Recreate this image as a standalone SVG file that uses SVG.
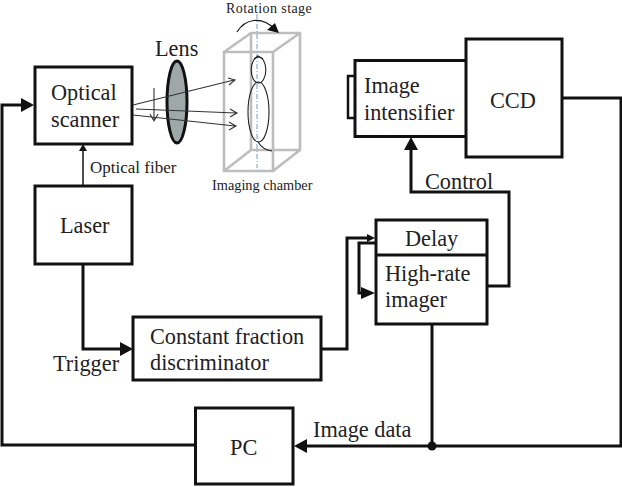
<svg xmlns="http://www.w3.org/2000/svg" width="622" height="487" viewBox="0 0 622 487">
<style>
text{font-family:"Liberation Serif","Times New Roman",serif;fill:#222}
.t22{font-size:22.3px}
.t15{font-size:14px;letter-spacing:.4px}
.t17{font-size:17px}
.t14{font-size:14.300px}
.box{fill:#fff;stroke:#111;stroke-width:3}
.wire{fill:none;stroke:#111;stroke-width:3}
.thin{fill:none;stroke:#222;stroke-width:1.6}
.open{fill:none;stroke:#333;stroke-width:1.1}
.frame{fill:none;stroke:#bdbdbd;stroke-width:2.6}
.head{fill:#111}
</style>

<!-- signal and data wiring -->
<g id="connectors">
  <path class="wire" d="M195 445H2V105H22"/>
  <path class="head" d="M34 105L21 98V112Z"/>
  <path class="thin" d="M83 186V150"/>
  <path class="head" d="M83 144L79 151H87Z"/>
  <path class="wire" d="M83 264V349H122"/>
  <path class="head" d="M133 349L120 342V356Z"/>
  <path class="wire" d="M321 349H347V238H368"/>
  <path class="head" d="M375 238L367 234V242Z"/>
  <path class="wire" d="M375 243H359V293H366"/>
  <path class="head" d="M375 293L361 287V299Z"/>
  <path class="wire" d="M487 286H509V192H411V148"/>
  <path class="head" d="M411 137L404 150H418Z"/>
  <path class="wire" d="M432 324V446"/>
  <path class="wire" d="M562 98H621V446H305"/>
  <path class="head" d="M294 446L307 439V453Z"/>
  <circle class="head" cx="432" cy="446" r="4.5"/>
</g>

<g id="optical-scanner">
  <rect class="box" x="35" y="67" width="97" height="77"/>
  <text class="t22" x="51" y="100">Optical</text>
  <text class="t22" x="51" y="127">scanner</text>
</g>
<g id="laser">
  <rect class="box" x="35" y="186" width="97" height="78"/>
  <text class="t22" x="60" y="233">Laser</text>
</g>
<text class="t17" x="90" y="173">Optical fiber</text>

<g id="lens">
  <ellipse cx="177" cy="102" rx="10" ry="41" fill="#9ea8a8" stroke="#111" stroke-width="3"/>
  <text class="t22" x="155" y="56">Lens</text>
</g>

<!-- chamber frame, rotation axis, specimen and incoming beams -->
<g id="imaging-chamber">
  <path class="frame" d="M224 52H273V171H224ZM224 52L251 33H300V150H251V33M273 52L300 33M273 171L300 150M224 171L251 150"/>
  <path d="M257 14V168" fill="none" stroke="#6f9fc8" stroke-width="1" stroke-dasharray="5 2 1 2"/>
  <ellipse class="open" cx="258.500" cy="70" rx="7.300" ry="13" style="stroke:#222"/>
  <ellipse class="open" cx="258.500" cy="112" rx="10.500" ry="30" style="stroke:#222"/>
  <path class="open" d="M258 142C261 147 265 150 272 151M254 59L258 56L263 59" style="stroke:#222"/>
  <path d="M237 32C245 19 261 15 276 30" fill="none" stroke="#111" stroke-width="1.2"/>
  <path class="head" d="M279 33L267 30L275 23Z"/>
  <path class="open" d="M133 105L234 80M228 78L235 80L229 85M136 109L236 113M230 109L237 113L230 117M133 115L235 126M229 122L236 126L229 130M154 88V121M150 114L154 121L158 114"/>
  <text class="t15" x="226" y="12.500">Rotation stage</text>
  <text class="t14" x="212" y="190">Imaging chamber</text>
</g>

<g id="image-intensifier">
  <rect class="box" x="348" y="76" width="9" height="42" style="stroke-width:2.500"/>
  <rect class="box" x="355" y="60.500" width="112" height="76"/>
  <text class="t22" x="364" y="93">Image</text>
  <text class="t22" x="364" y="120">intensifier</text>
</g>
<g id="ccd">
  <rect class="box" x="466" y="39" width="96" height="118"/>
  <text class="t22" x="490" y="108">CCD</text>
</g>
<text class="t22" x="425" y="189">Control</text>

<g id="delay-imager">
  <rect class="box" x="376" y="220" width="111" height="104"/>
  <path class="wire" d="M376 255H487"/>
  <text class="t22" x="405" y="246">Delay</text>
  <text class="t22" x="385" y="281">High-rate</text>
  <text class="t22" x="385" y="307">imager</text>
</g>

<g id="discriminator">
  <rect class="box" x="133" y="317" width="188" height="63"/>
  <text class="t22" x="150" y="344">Constant fraction</text>
  <text class="t22" x="150" y="370">discriminator</text>
</g>
<text class="t22" x="53" y="371">Trigger</text>

<g id="pc">
  <rect class="box" x="195.500" y="408" width="97.500" height="76"/>
  <text class="t22" x="230" y="455">PC</text>
</g>
<text class="t22" x="313" y="437">Image data</text>
</svg>
